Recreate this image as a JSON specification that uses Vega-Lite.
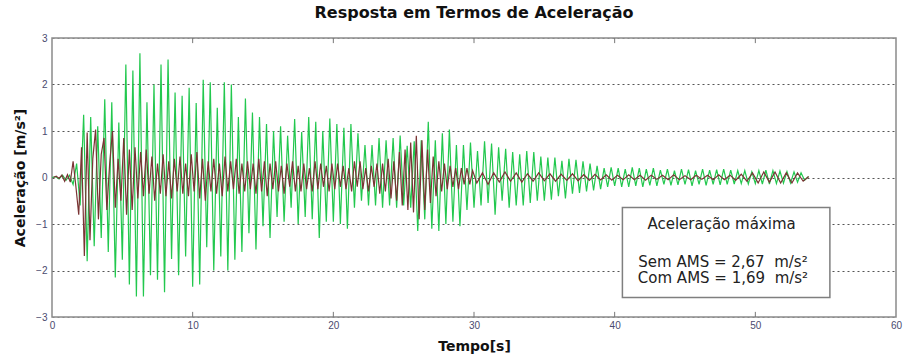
{
"$schema": "https://vega.github.io/schema/vega-lite/v6.json",
"width": 844, "height": 279,
"autosize": {"type": "none"},
"padding": {"left": 52, "top": 38, "right": 8, "bottom": 40},
"background": "white",
"config": {"view": {"stroke": "#8a8a8a", "strokeWidth": 1.5}, "font": "DejaVu Sans"},
"title": {"text": "Resposta em Termos de Aceleração", "font": "DejaVu Sans", "fontSize": 16, "fontWeight": "bold", "color": "#111", "offset": 12, "anchor": "middle"},
"datasets": {
"sem": [
{"t":0,"a":0},{"t":0.25,"a":0.02},{"t":0.5,"a":-0.03},{"t":0.75,"a":0.05},{"t":1,"a":-0.06},{"t":1.25,"a":0.05},{"t":1.5,"a":-0.15},{"t":1.75,"a":0.3},
{"t":2,"a":-0.6},{"t":2.25,"a":1.35},{"t":2.5,"a":-1.8},{"t":2.75,"a":1.3},{"t":3,"a":-1.48},{"t":3.25,"a":1.1},{"t":3.5,"a":-1.3},{"t":3.75,"a":1.68},
{"t":4,"a":-1.6},{"t":4.25,"a":1.62},{"t":4.5,"a":-2.15},{"t":4.75,"a":1.18},{"t":5,"a":-1.77},{"t":5.25,"a":2.43},{"t":5.5,"a":-2.3},{"t":5.75,"a":2.3},
{"t":6,"a":-2.56},{"t":6.25,"a":2.67},{"t":6.5,"a":-2.56},{"t":6.75,"a":1.62},{"t":7,"a":-2.1},{"t":7.25,"a":2.0},{"t":7.5,"a":-2.2},{"t":7.75,"a":2.43},
{"t":8,"a":-2.47},{"t":8.25,"a":2.54},{"t":8.5,"a":-1.75},{"t":8.75,"a":1.83},{"t":9,"a":-2.1},{"t":9.25,"a":1.76},{"t":9.5,"a":-1.7},{"t":9.75,"a":1.93},
{"t":10,"a":-2.35},{"t":10.25,"a":1.6},{"t":10.5,"a":-2.3},{"t":10.75,"a":2.1},{"t":11,"a":-1.5},{"t":11.25,"a":2.05},{"t":11.5,"a":-2.0},{"t":11.75,"a":1.5},
{"t":12,"a":-1.7},{"t":12.25,"a":2.05},{"t":12.5,"a":-2.0},{"t":12.75,"a":2.0},{"t":13,"a":-1.77},{"t":13.25,"a":1.3},{"t":13.5,"a":-1.6},{"t":13.75,"a":1.7},
{"t":14,"a":-1.2},{"t":14.25,"a":1.4},{"t":14.5,"a":-1.55},{"t":14.75,"a":1.3},{"t":15,"a":-1.05},{"t":15.25,"a":1.15},{"t":15.5,"a":-1.3},{"t":15.75,"a":1.0},
{"t":16,"a":-0.85},{"t":16.25,"a":1.1},{"t":16.5,"a":-0.95},{"t":16.75,"a":0.9},{"t":17,"a":-0.65},{"t":17.25,"a":1.26},{"t":17.5,"a":-1.0},{"t":17.75,"a":0.98},
{"t":18,"a":-0.85},{"t":18.25,"a":1.3},{"t":18.5,"a":-0.9},{"t":18.75,"a":1.2},{"t":19,"a":-1.3},{"t":19.25,"a":1.0},{"t":19.5,"a":-0.95},{"t":19.75,"a":1.27},
{"t":20,"a":-0.95},{"t":20.25,"a":1.15},{"t":20.5,"a":-1.0},{"t":20.75,"a":1.07},{"t":21,"a":-1.1},{"t":21.25,"a":1.15},{"t":21.5,"a":-0.65},{"t":21.75,"a":0.95},
{"t":22,"a":-0.5},{"t":22.25,"a":0.7},{"t":22.5,"a":-0.6},{"t":22.75,"a":0.7},{"t":23,"a":-0.6},{"t":23.25,"a":0.85},{"t":23.5,"a":-0.65},{"t":23.75,"a":0.8},
{"t":24,"a":-0.6},{"t":24.25,"a":0.85},{"t":24.5,"a":-0.65},{"t":24.75,"a":0.9},{"t":25,"a":-0.6},{"t":25.25,"a":0.68},{"t":25.5,"a":-0.65},{"t":25.75,"a":0.78},
{"t":26,"a":-1.15},{"t":26.25,"a":0.8},{"t":26.5,"a":-0.9},{"t":26.75,"a":1.2},{"t":27,"a":-1.1},{"t":27.25,"a":0.8},{"t":27.5,"a":-1.15},{"t":27.75,"a":0.95},
{"t":28,"a":-1.0},{"t":28.25,"a":1.03},{"t":28.5,"a":-0.95},{"t":28.75,"a":0.7},{"t":29,"a":-1.05},{"t":29.25,"a":0.7},{"t":29.5,"a":-0.7},{"t":29.75,"a":0.75},
{"t":30,"a":-0.65},{"t":30.25,"a":0.57},{"t":30.5,"a":-0.6},{"t":30.75,"a":0.78},{"t":31,"a":-0.55},{"t":31.25,"a":0.73},{"t":31.5,"a":-0.8},{"t":31.75,"a":0.65},
{"t":32,"a":-0.5},{"t":32.25,"a":0.62},{"t":32.5,"a":-0.65},{"t":32.75,"a":0.55},{"t":33,"a":-0.6},{"t":33.25,"a":0.5},{"t":33.5,"a":-0.6},{"t":33.75,"a":0.57},
{"t":34,"a":-0.55},{"t":34.25,"a":0.55},{"t":34.5,"a":-0.5},{"t":34.75,"a":0.45},{"t":35,"a":-0.5},{"t":35.25,"a":0.43},{"t":35.5,"a":-0.48},{"t":35.75,"a":0.43},
{"t":36,"a":-0.4},{"t":36.25,"a":0.36},{"t":36.5,"a":-0.45},{"t":36.75,"a":0.4},{"t":37,"a":-0.35},{"t":37.25,"a":0.38},{"t":37.5,"a":-0.33},{"t":37.75,"a":0.35},
{"t":38,"a":-0.3},{"t":38.25,"a":0.3},{"t":38.5,"a":-0.28},{"t":38.75,"a":0.25},{"t":39,"a":-0.25},{"t":39.25,"a":0.2},{"t":39.5,"a":-0.2},{"t":39.75,"a":0.22},
{"t":40,"a":-0.18},{"t":40.25,"a":0.2},{"t":40.5,"a":-0.2},{"t":40.75,"a":0.18},{"t":41,"a":-0.2},{"t":41.25,"a":0.22},{"t":41.5,"a":-0.18},{"t":41.75,"a":0.2},
{"t":42,"a":-0.2},{"t":42.25,"a":0.18},{"t":42.5,"a":-0.17},{"t":42.75,"a":0.2},{"t":43,"a":-0.18},{"t":43.25,"a":0.16},{"t":43.5,"a":-0.15},{"t":43.75,"a":0.18},
{"t":44,"a":-0.17},{"t":44.25,"a":0.15},{"t":44.5,"a":-0.16},{"t":44.75,"a":0.18},{"t":45,"a":-0.15},{"t":45.25,"a":0.17},{"t":45.5,"a":-0.18},{"t":45.75,"a":0.15},
{"t":46,"a":-0.15},{"t":46.25,"a":0.18},{"t":46.5,"a":-0.17},{"t":46.75,"a":0.16},{"t":47,"a":-0.15},{"t":47.25,"a":0.17},{"t":47.5,"a":-0.16},{"t":47.75,"a":0.18},
{"t":48,"a":-0.15},{"t":48.25,"a":0.16},{"t":48.5,"a":-0.14},{"t":48.75,"a":0.15},{"t":49,"a":-0.13},{"t":49.25,"a":0.15},{"t":49.5,"a":-0.14},{"t":49.75,"a":0.12},
{"t":50,"a":-0.13},{"t":50.25,"a":0.15},{"t":50.5,"a":-0.14},{"t":50.75,"a":0.16},{"t":51,"a":-0.14},{"t":51.25,"a":0.15},{"t":51.5,"a":-0.13},{"t":51.75,"a":0.14},
{"t":52,"a":-0.12},{"t":52.25,"a":0.13},{"t":52.5,"a":-0.12},{"t":52.75,"a":0.12},{"t":53,"a":-0.1},{"t":53.25,"a":0.1},{"t":53.5,"a":-0.06},{"t":53.75,"a":0.02}
],
"com": [
{"t":0.1,"a":0},{"t":0.3,"a":0.03},{"t":0.5,"a":-0.02},{"t":0.7,"a":0.05},{"t":0.9,"a":-0.08},{"t":1.1,"a":0.06},{"t":1.3,"a":-0.1},{"t":1.5,"a":0.35},
{"t":1.7,"a":-0.2},{"t":1.9,"a":-0.8},{"t":2.1,"a":0.65},{"t":2.3,"a":-1.69},{"t":2.5,"a":0.97},{"t":2.7,"a":-1.35},{"t":2.9,"a":0.4},{"t":3.1,"a":1.03},
{"t":3.3,"a":-0.9},{"t":3.5,"a":0.5},{"t":3.7,"a":0.85},{"t":3.9,"a":-0.7},{"t":4.1,"a":0.3},{"t":4.3,"a":1.0},{"t":4.5,"a":-0.65},{"t":4.7,"a":0.4},
{"t":4.9,"a":-0.5},{"t":5.1,"a":0.85},{"t":5.3,"a":-0.8},{"t":5.5,"a":0.6},{"t":5.7,"a":-0.7},{"t":5.9,"a":0.65},{"t":6.1,"a":-0.45},{"t":6.3,"a":0.55},
{"t":6.5,"a":-0.4},{"t":6.7,"a":0.6},{"t":6.9,"a":-0.35},{"t":7.1,"a":0.45},{"t":7.3,"a":-0.5},{"t":7.5,"a":0.3},{"t":7.7,"a":-0.35},{"t":7.9,"a":0.5},
{"t":8.1,"a":-0.4},{"t":8.3,"a":0.35},{"t":8.5,"a":-0.45},{"t":8.7,"a":0.4},{"t":8.9,"a":-0.3},{"t":9.1,"a":0.45},{"t":9.3,"a":-0.35},{"t":9.5,"a":0.3},
{"t":9.7,"a":-0.4},{"t":9.9,"a":0.5},{"t":10.1,"a":-0.3},{"t":10.3,"a":0.55},{"t":10.5,"a":-0.45},{"t":10.7,"a":0.4},{"t":10.9,"a":-0.5},{"t":11.1,"a":0.35},
{"t":11.3,"a":-0.3},{"t":11.5,"a":0.4},{"t":11.7,"a":-0.35},{"t":11.9,"a":0.3},{"t":12.1,"a":-0.4},{"t":12.3,"a":0.45},{"t":12.5,"a":-0.3},{"t":12.7,"a":0.35},
{"t":12.9,"a":-0.25},{"t":13.1,"a":0.4},{"t":13.3,"a":-0.35},{"t":13.5,"a":0.3},{"t":13.7,"a":-0.3},{"t":13.9,"a":0.35},{"t":14.1,"a":-0.25},{"t":14.3,"a":0.3},
{"t":14.5,"a":-0.35},{"t":14.7,"a":0.4},{"t":14.9,"a":-0.3},{"t":15.1,"a":0.35},{"t":15.3,"a":-0.4},{"t":15.5,"a":0.3},{"t":15.7,"a":-0.25},{"t":15.9,"a":0.35},
{"t":16.1,"a":-0.3},{"t":16.3,"a":0.25},{"t":16.5,"a":-0.35},{"t":16.7,"a":0.3},{"t":16.9,"a":-0.2},{"t":17.1,"a":0.35},{"t":17.3,"a":-0.3},{"t":17.5,"a":0.25},
{"t":17.7,"a":-0.3},{"t":17.9,"a":0.3},{"t":18.1,"a":-0.25},{"t":18.3,"a":0.2},{"t":18.5,"a":-0.3},{"t":18.7,"a":0.35},{"t":18.9,"a":-0.25},{"t":19.1,"a":0.3},
{"t":19.3,"a":-0.2},{"t":19.5,"a":0.25},{"t":19.7,"a":-0.3},{"t":19.9,"a":0.3},{"t":20.1,"a":-0.25},{"t":20.3,"a":0.3},{"t":20.5,"a":-0.2},{"t":20.7,"a":0.25},
{"t":20.9,"a":-0.25},{"t":21.1,"a":0.2},{"t":21.3,"a":-0.3},{"t":21.5,"a":0.35},{"t":21.7,"a":-0.2},{"t":21.9,"a":0.35},{"t":22.1,"a":-0.25},{"t":22.3,"a":0.2},
{"t":22.5,"a":-0.3},{"t":22.7,"a":0.25},{"t":22.9,"a":-0.2},{"t":23.1,"a":0.3},{"t":23.3,"a":-0.35},{"t":23.5,"a":0.3},{"t":23.7,"a":-0.3},{"t":23.9,"a":0.4},
{"t":24.1,"a":-0.45},{"t":24.3,"a":0.35},{"t":24.5,"a":-0.5},{"t":24.7,"a":0.55},{"t":24.9,"a":-0.6},{"t":25.1,"a":0.6},{"t":25.3,"a":-0.7},{"t":25.5,"a":0.75},
{"t":25.7,"a":-0.75},{"t":25.9,"a":0.9},{"t":26.1,"a":-0.9},{"t":26.3,"a":0.8},{"t":26.5,"a":-0.7},{"t":26.7,"a":0.6},{"t":26.9,"a":-0.55},{"t":27.1,"a":0.45},
{"t":27.3,"a":-0.4},{"t":27.5,"a":0.35},{"t":27.7,"a":-0.3},{"t":27.9,"a":0.3},{"t":28.1,"a":-0.25},{"t":28.3,"a":0.25},{"t":28.5,"a":-0.2},{"t":28.7,"a":0.2},
{"t":28.9,"a":-0.25},{"t":29.1,"a":0.2},{"t":29.3,"a":-0.15},{"t":29.5,"a":0.2},{"t":29.7,"a":-0.15},{"t":29.9,"a":0.15},
{"t":30.2,"a":-0.12},{"t":30.6,"a":0.1},{"t":31.0,"a":-0.15},{"t":31.4,"a":0.1},{"t":31.8,"a":-0.1},{"t":32.2,"a":0.12},{"t":32.6,"a":-0.08},{"t":33.0,"a":0.1},
{"t":33.4,"a":-0.1},{"t":33.8,"a":0.08},{"t":34.2,"a":-0.08},{"t":34.6,"a":0.1},{"t":35.0,"a":-0.07},{"t":35.4,"a":0.08},{"t":35.8,"a":-0.08},{"t":36.2,"a":0.07},
{"t":36.6,"a":-0.06},{"t":37.0,"a":0.08},{"t":37.4,"a":-0.07},{"t":37.8,"a":0.06},{"t":38.2,"a":-0.06},{"t":38.6,"a":0.07},{"t":39.0,"a":-0.05},{"t":39.4,"a":0.06},
{"t":39.8,"a":-0.06},{"t":40.2,"a":0.05},{"t":40.6,"a":-0.05},{"t":41.0,"a":0.06},{"t":41.4,"a":-0.05},{"t":41.8,"a":0.05},{"t":42.2,"a":-0.06},{"t":42.6,"a":0.05},
{"t":43.0,"a":-0.04},{"t":43.4,"a":0.05},{"t":43.8,"a":-0.05},{"t":44.2,"a":0.06},{"t":44.6,"a":-0.05},{"t":45.0,"a":0.04},{"t":45.4,"a":-0.05},{"t":45.8,"a":0.05},
{"t":46.2,"a":-0.04},{"t":46.6,"a":0.05},{"t":47.0,"a":-0.05},{"t":47.4,"a":0.06},{"t":47.8,"a":-0.05},{"t":48.2,"a":0.05},{"t":48.6,"a":-0.06},{"t":49.0,"a":0.07},
{"t":49.4,"a":-0.08},{"t":49.8,"a":0.1},{"t":50.2,"a":-0.12},{"t":50.6,"a":0.12},{"t":51.0,"a":-0.1},{"t":51.4,"a":0.12},{"t":51.8,"a":-0.12},{"t":52.2,"a":0.1},
{"t":52.6,"a":-0.12},{"t":53.0,"a":0.1},{"t":53.4,"a":-0.08},{"t":53.8,"a":0.02}
],
"ticks": [{"t":10},{"t":20},{"t":30},{"t":40},{"t":50}]
},
"layer": [
{"data": {"name": "sem"},
 "mark": {"type": "line", "color": "#22c84e", "strokeWidth": 1.2},
 "encoding": {
  "x": {"field": "t", "type": "quantitative", "scale": {"domain": [0, 60], "nice": false, "zero": false},
        "axis": {"orient": "bottom", "values": [0,10,20,30,40,50,60], "title": "Tempo[s]", "titleFont": "DejaVu Sans", "titleFontSize": 14, "titleFontWeight": "bold", "titleColor": "#111", "titlePadding": 9,
                 "labelFont": "Liberation Sans", "labelFontSize": 10, "labelColor": "#4a4a6e", "labelFlush": false, "labelPadding": 3,
                 "domain": false, "grid": false, "ticks": false}},
  "y": {"field": "a", "type": "quantitative", "scale": {"domain": [-3, 3], "nice": false, "zero": false},
        "axis": {"orient": "left", "values": [-3,-2,-1,0,1,2,3], "title": "Aceleração [m/s²]", "titleFont": "DejaVu Sans", "titleFontSize": 14, "titleFontWeight": "bold", "titleColor": "#111", "titlePadding": 8,
                 "labelFont": "Liberation Sans", "labelFontSize": 10, "labelColor": "#4a4a6e", "labelPadding": 5, "labelFlush": false,
                 "domain": false, "ticks": false, "grid": true, "gridDash": [2, 3], "gridWidth": 1,
                 "gridColor": {"condition": {"test": "abs(datum.value) >= 3", "value": "#8a8a8a"}, "value": "#555"}}}
 }},
{"data": {"name": "com"},
 "mark": {"type": "line", "color": "#7a3434", "strokeWidth": 1.2},
 "encoding": {
  "x": {"field": "t", "type": "quantitative"},
  "y": {"field": "a", "type": "quantitative"}
 }},
{"data": {"name": "ticks"},
 "mark": {"type": "rule", "color": "#777", "strokeWidth": 1},
 "encoding": {"x": {"field": "t", "type": "quantitative"}, "y": {"datum": -3}, "y2": {"datum": -2.89}}},
{"data": {"name": "ticks"},
 "mark": {"type": "rule", "color": "#777", "strokeWidth": 1},
 "encoding": {"x": {"field": "t", "type": "quantitative"}, "y": {"datum": 3}, "y2": {"datum": 2.89}}},
{"data": {"values": [{}]},
 "mark": {"type": "rect", "fill": "white", "stroke": "#7f7f7f", "strokeWidth": 1.5},
 "encoding": {"x": {"datum": 40.55}, "x2": {"datum": 55.3}, "y": {"datum": -0.645}, "y2": {"datum": -2.58}}},
{"data": {"values": [{}]},
 "mark": {"type": "text", "text": "Aceleração máxima", "font": "DejaVu Sans", "fontSize": 15, "align": "center", "baseline": "middle", "color": "#222"},
 "encoding": {"x": {"datum": 47.6}, "y": {"datum": -1.01}}},
{"data": {"values": [{}]},
 "mark": {"type": "text", "text": "Sem AMS = 2,67\u00a0 m/s²", "font": "DejaVu Sans", "fontSize": 15, "align": "center", "baseline": "middle", "color": "#222"},
 "encoding": {"x": {"datum": 47.7}, "y": {"datum": -1.81}}},
{"data": {"values": [{}]},
 "mark": {"type": "text", "text": "Com AMS = 1,69\u00a0 m/s²", "font": "DejaVu Sans", "fontSize": 15, "align": "center", "baseline": "middle", "color": "#222"},
 "encoding": {"x": {"datum": 47.7}, "y": {"datum": -2.17}}}
]
}
